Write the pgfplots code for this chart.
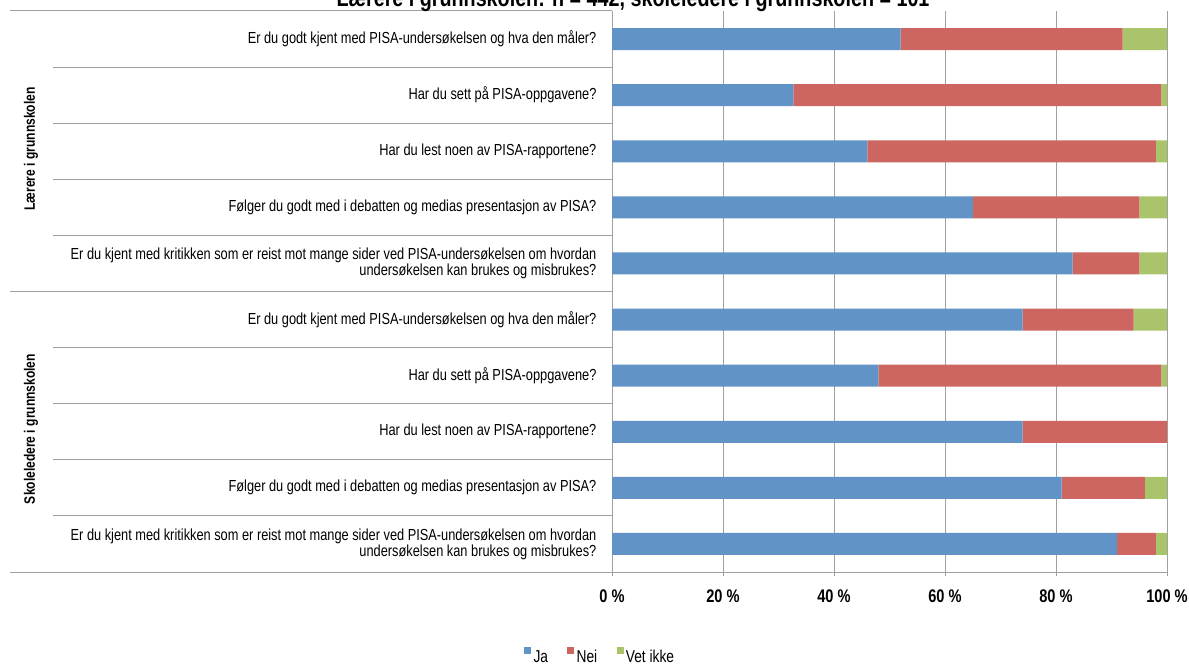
\documentclass[border=0pt]{standalone}
\usepackage{fontspec}
\setmainfont{Liberation Sans}[FakeStretch=0.80]
\usepackage{pgfplots}
\pgfplotsset{compat=1.18}

\definecolor{jaBlue}{RGB}{97,147,199}
\definecolor{neiRed}{RGB}{205,102,96}
\definecolor{vetGreen}{RGB}{170,196,108}
\definecolor{lineGray}{RGB}{160,160,160}

\newcommand{\lblfont}{\fontsize{12}{12}\selectfont}

\begin{document}
\begin{tikzpicture}[x=0.75pt,y=-0.75pt]
\begin{axis}[
	at={(459pt,-8.25pt)}, anchor=north west,
	scale only axis,
	width=416.25pt, height=420.75pt,
	xbar stacked,
	bar width=16.5pt,
	xmin=0, xmax=100,
	ymin=-0.5, ymax=9.5,
	y dir=reverse,
	axis x line*=bottom,
	axis y line*=left,
	axis line style={lineGray, line width=0.75pt},
	xtick={0,20,40,60,80,100},
	xticklabels={0 \%,20 \%,40 \%,60 \%,80 \%,100 \%},
	xmajorgrids,
	grid style={lineGray, line width=0.75pt},
	tick align=outside,
	major tick length=3pt,
	x tick style={lineGray, line width=0.75pt},
	xticklabel style={font=\bfseries\fontsize{13.7}{14}\selectfont, anchor=center, yshift=-15.5pt},
	ytick={0,...,9},
	y tick style={draw=none},
	yticklabels={
		Er du godt kjent med PISA-undersøkelsen og hva den måler?,
		Har du sett på PISA-oppgavene?,
		Har du lest noen av PISA-rapportene?,
		Følger du godt med i debatten og medias presentasjon av PISA?,
		{Er du kjent med kritikken som er reist mot mange sider ved PISA-undersøkelsen om hvordan\\undersøkelsen kan brukes og misbrukes?},
		Er du godt kjent med PISA-undersøkelsen og hva den måler?,
		Har du sett på PISA-oppgavene?,
		Har du lest noen av PISA-rapportene?,
		Følger du godt med i debatten og medias presentasjon av PISA?,
		{Er du kjent med kritikken som er reist mot mange sider ved PISA-undersøkelsen om hvordan\\undersøkelsen kan brukes og misbrukes?}
	},
	yticklabel style={align=right, font=\lblfont, inner sep=0pt, anchor=east, xshift=-8.5pt},
	legend columns=3,
	legend style={
		at={(-0.1586,-0.150)}, anchor=west,
		draw=none, fill=none, inner sep=0pt,
		font=\fontsize{12.9}{14}\selectfont,
		nodes={inner sep=0.5pt},
		/tikz/every odd column/.append style={column sep=1.2pt},
		/tikz/every even column/.append style={column sep=14pt},
	},
	legend cell align=left,
	legend image code/.code={\fill[#1] (0pt,2.5pt) rectangle (5.25pt,7.5pt);},
]
% Ja
\addplot[fill=jaBlue, draw=none] coordinates {
	(52,0) (32.7,1) (46,2) (65,3) (83,4)
	(74,5) (48,6) (74,7) (81,8) (91,9)
};
% Nei
\addplot[fill=neiRed, draw=none] coordinates {
	(40,0) (66.3,1) (52,2) (30,3) (12,4)
	(20,5) (51,6) (26,7) (15,8) (7,9)
};
% Vet ikke
\addplot[fill=vetGreen, draw=none] coordinates {
	(8,0) (1,1) (2,2) (5,3) (5,4)
	(6,5) (1,6) (0,7) (4,8) (2,9)
};
\legend{Ja, Nei, Vet ikke}
\end{axis}

% category separators in the label area
\begin{scope}[lineGray, line width=0.75pt]
	\draw (10,11) -- (612,11);
	\draw (10,291.5) -- (612,291.5);
	\draw (10,572) -- (612,572);
	\foreach \yy in {67.1,123.2,179.3,235.4,347.6,403.7,459.8,515.9}
		\draw (53,\yy) -- (612,\yy);
\end{scope}

% group labels
\node[rotate=90, font=\bfseries\fontsize{11.3}{12}\selectfont] at (31,149) {Lærere i grunnskolen};
\node[rotate=90, font=\bfseries\fontsize{11.3}{12}\selectfont] at (31,429) {Skoleledere i grunnskolen};

% title, cut off by the top edge as in the original
\node[anchor=base, inner sep=0pt, font=\bfseries\fontsize{18.5}{20}\selectfont] at (633,6.5)
	{Lærere i grunnskolen: n = 442, skoleledere i grunnskolen = 101};

\pgfresetboundingbox
\useasboundingbox (0,0) rectangle (1189,666);
\end{tikzpicture}
\end{document}
